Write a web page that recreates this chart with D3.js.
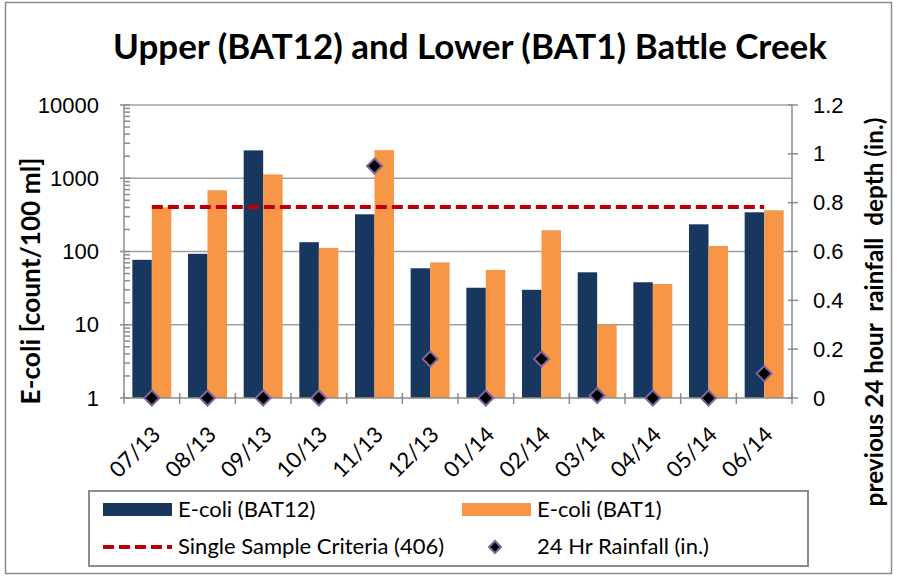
<!DOCTYPE html>
<meta charset="utf-8">
<style>
    body {
        margin: 0;
        background: #fff;
    }

    svg {
        font-family: Lato, "Open Sans", sans-serif;
    }

    .grid {
        stroke: #a0a0a0;
        stroke-width: 1.5px;
    }

    .axis-line {
        stroke: #8c8c8c;
        stroke-width: 1.5px;
        fill: none;
    }

    .tick-label {
        font-size: 22px;
        fill: #000;
    }

    .criteria {
        fill: none;
        stroke: #c00000;
        stroke-width: 4px;
        stroke-dasharray: 11, 5;
    }

    .rain {
        fill: #000;
        stroke: #7f63a1;
        stroke-width: 2px;
    }

    .legend text {
        font-size: 22px;
    }
</style>
<svg></svg>
<script src="https://cdn.jsdelivr.net/npm/d3@7"></script>
<script>

    // data
    var months = ["07/13", "08/13", "09/13", "10/13", "11/13", "12/13",
                  "01/14", "02/14", "03/14", "04/14", "05/14", "06/14"];
    var bat12 = [77, 93, 2400, 134, 322, 59, 32, 30, 52, 38, 235, 343];
    var bat1 = [400, 685, 1130, 112, 2420, 71, 56, 195, 10, 36, 119, 365];
    var rainfall = [0, 0, 0, 0, 0.95, 0.16, 0, 0.16, 0.01, 0, 0, 0.1];
    var criteria = 406;

    var seriesNames = ["E-coli (BAT12)", "E-coli (BAT1)"];
    var seriesColors = ["#17375e", "#f79646"];
    var eTicks = [1, 10, 100, 1000, 10000];
    var rainTicks = [0, 0.2, 0.4, 0.6, 0.8, 1, 1.2];

    var width = 897,
        height = 577;

    var plotL = 124, plotR = 792, plotT = 105, plotB = 398;

    var svg = d3.select("svg")
        .attr("width", width)
        .attr("height", height);

    // chart border
    svg.append("rect")
        .attr("x", 5.5).attr("y", 2.5)
        .attr("width", 886).attr("height", 571)
        .attr("fill", "#fff")
        .attr("stroke", "#8c8c8c")
        .attr("stroke-width", 1.5);

    var x = d3.scaleBand()
        .domain(months)
        .range([plotL, plotR])
        .paddingInner(0.3)
        .paddingOuter(0.15);

    var x1 = d3.scaleBand()
        .domain([0, 1])
        .range([0, x.bandwidth()]);

    var y = d3.scaleLog()
        .domain([1, 10000])
        .range([plotB, plotT]);

    var y2 = d3.scaleLinear()
        .domain([0, 1.2])
        .range([plotB, plotT]);

    // gridlines at decades
    svg.append("g")
        .selectAll("line")
        .data(eTicks.slice(1))
        .join("line")
        .attr("class", "grid")
        .attr("x1", plotL).attr("x2", plotR)
        .attr("y1", d => y(d)).attr("y2", d => y(d));

    // bars
    var series = [bat12, bat1];
    series.forEach(function(vals, s) {
        svg.append("g")
            .selectAll("rect")
            .data(vals)
            .join("rect")
            .attr("x", (d, i) => x(months[i]) + x1(s))
            .attr("y", d => y(d))
            .attr("width", x1.bandwidth())
            .attr("height", d => plotB - y(d))
            .attr("fill", seriesColors[s]);
    });

    // left axis
    var minor = [];
    [1, 10, 100, 1000].forEach(function(dec) {
        for (var k = 2; k <= 9; k++) minor.push(dec * k);
    });

    var gl = svg.append("g");
    gl.append("line").attr("class", "axis-line")
        .attr("x1", plotL).attr("x2", plotL)
        .attr("y1", plotT).attr("y2", plotB);
    gl.selectAll(".minor")
        .data(minor)
        .join("line")
        .attr("class", "axis-line minor")
        .attr("x1", plotL).attr("x2", plotL + 6)
        .attr("y1", d => y(d)).attr("y2", d => y(d));
    gl.selectAll(".major")
        .data(eTicks)
        .join("line")
        .attr("class", "axis-line major")
        .attr("x1", plotL - 4).attr("x2", plotL + 6)
        .attr("y1", d => y(d)).attr("y2", d => y(d));

    svg.append("g")
        .attr("transform", "translate(" + (plotL - 25) + ",0)")
        .call(d3.axisLeft(y).tickValues(eTicks).tickFormat(d3.format("d")).tickSize(0))
        .call(g => g.select(".domain").remove())
        .call(g => g.selectAll("text").attr("class", "tick-label").attr("x", 0).attr("font-family", null).attr("font-size", null));

    // right axis
    var gr = svg.append("g");
    gr.append("line").attr("class", "axis-line")
        .attr("x1", plotR).attr("x2", plotR)
        .attr("y1", plotT).attr("y2", plotB);
    gr.selectAll(".rt")
        .data(rainTicks)
        .join("line")
        .attr("class", "axis-line rt")
        .attr("x1", plotR - 4).attr("x2", plotR + 6)
        .attr("y1", d => y2(d)).attr("y2", d => y2(d));

    svg.append("g")
        .attr("transform", "translate(" + (plotR + 21) + ",0)")
        .call(d3.axisRight(y2).tickValues(rainTicks).tickFormat(d3.format("~g")).tickSize(0))
        .call(g => g.select(".domain").remove())
        .call(g => g.selectAll("text").attr("class", "tick-label").attr("x", 0).attr("font-family", null).attr("font-size", null));

    // bottom axis
    var gb = svg.append("g");
    gb.append("line").attr("class", "axis-line")
        .attr("x1", plotL).attr("x2", plotR)
        .attr("y1", plotB).attr("y2", plotB);
    gb.selectAll(".bt")
        .data(d3.range(months.length + 1))
        .join("line")
        .attr("class", "axis-line bt")
        .attr("x1", i => plotL + i * x.step()).attr("x2", i => plotL + i * x.step())
        .attr("y1", plotB - 5).attr("y2", plotB + 6);

    svg.append("g")
        .selectAll("text")
        .data(months)
        .join("text")
        .attr("class", "tick-label")
        .attr("text-anchor", "end")
        .attr("transform", d => "translate(" + (x(d) + x.bandwidth() / 2 + 10) + "," + 436 + ") rotate(-45)")
        .text(d => d);

    // criteria line
    svg.append("line")
        .attr("class", "criteria")
        .attr("x1", x(months[0]) + x.bandwidth() / 2)
        .attr("x2", x(months[months.length - 1]) + x.bandwidth() / 2)
        .attr("y1", y(criteria)).attr("y2", y(criteria));

    // rainfall diamonds
    var diamond = "M0,-7.5L7.5,0L0,7.5L-7.5,0Z";
    svg.append("g")
        .selectAll("path")
        .data(rainfall)
        .join("path")
        .attr("class", "rain")
        .attr("d", diamond)
        .attr("transform", (d, i) => "translate(" + (x(months[i]) + x.bandwidth() / 2) + "," + y2(d) + ")");

    function fit(t, target) {
        var w = t.node().getComputedTextLength();
        var fs = parseFloat(t.attr("font-size"));
        t.attr("font-size", fs * target / w);
    }

    // titles
    var title = svg.append("text")
        .attr("x", 470).attr("y", 59)
        .attr("text-anchor", "middle")
        .attr("font-weight", "bold")
        .attr("font-size", 36)
        .text("Upper (BAT12) and Lower (BAT1) Battle Creek");
    fit(title, 714);

    var yTitle = svg.append("text")
        .attr("transform", "translate(40,281) rotate(-90)")
        .attr("text-anchor", "middle")
        .attr("font-weight", "bold")
        .attr("font-size", 26)
        .text("E-coli [count/100 ml]");
    fit(yTitle, 247);

    var y2Title = svg.append("text")
        .attr("transform", "translate(883,312) rotate(-90)")
        .attr("text-anchor", "middle")
        .attr("font-weight", "bold")
        .attr("font-size", 20)
        .style("white-space", "pre")
        .text("previous 24 hour  rainfall  depth (in.)");
    fit(y2Title, 389);

    // legend
    var lg = svg.append("g").attr("class", "legend");
    lg.append("rect")
        .attr("x", 89).attr("y", 491)
        .attr("width", 719).attr("height", 75)
        .attr("fill", "#fff")
        .attr("stroke", "#8c8c8c")
        .attr("stroke-width", 2);

    var swatchX = [103, 462];
    seriesNames.forEach(function(name, s) {
        lg.append("rect")
            .attr("x", swatchX[s]).attr("y", 503)
            .attr("width", 69).attr("height", 13)
            .attr("fill", seriesColors[s]);
        lg.append("text")
            .attr("x", swatchX[s] + 75).attr("y", 509)
            .attr("dy", "0.35em")
            .text(name);
    });

    lg.append("line")
        .attr("class", "criteria")
        .attr("x1", 103).attr("x2", 172)
        .attr("y1", 547).attr("y2", 547)
        .attr("stroke-dasharray", "10,4");
    lg.append("text")
        .attr("x", 178).attr("y", 546)
        .attr("dy", "0.35em")
        .text("Single Sample Criteria (" + criteria + ")");

    lg.append("path")
        .attr("class", "rain")
        .attr("d", "M0,-6L6,0L0,6L-6,0Z")
        .attr("transform", "translate(495,547)");
    lg.append("text")
        .attr("x", 537).attr("y", 546)
        .attr("dy", "0.35em")
        .text("24 Hr Rainfall (in.)");

</script>
